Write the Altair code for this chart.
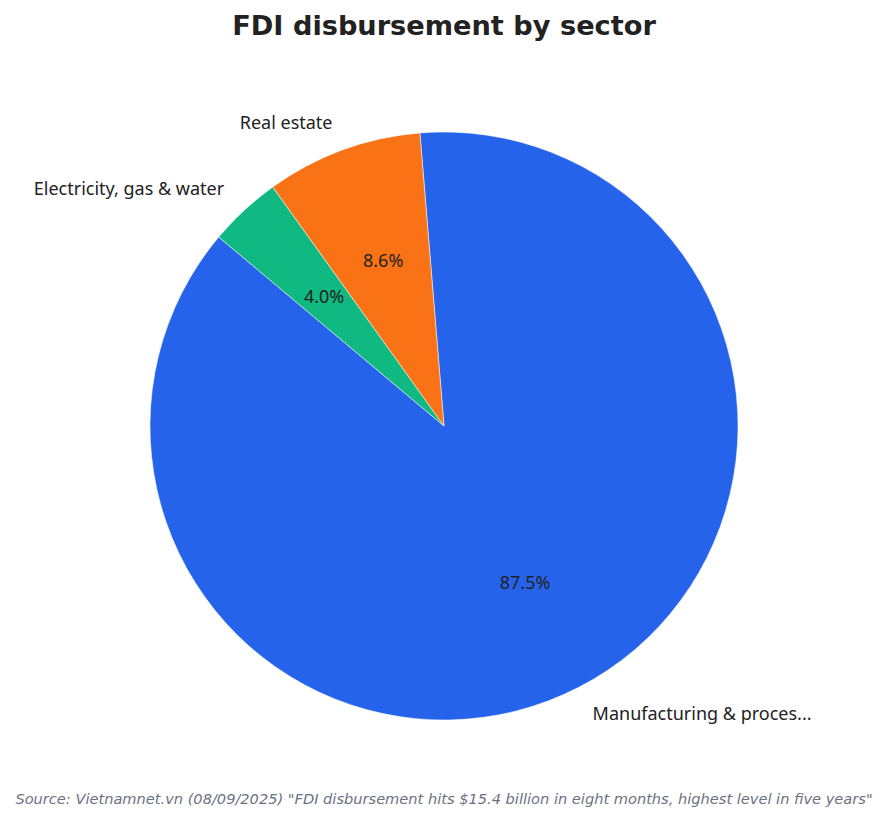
import altair as alt
import pandas as pd
import math

sectors = ["Manufacturing & proces...", "Electricity, gas & water", "Real estate"]
shares = [87.5, 4.0, 8.6]
colors = ["#2563EB", "#10B981", "#F97316"]
pct_labels = ["87.5%", "4.0%", "8.6%"]
side = ["right", "left", "left"]
order = [0, 1, 2]

df = pd.DataFrame({"sector": sectors, "share": shares, "pct": pct_labels,
                   "side": side, "ord": order})
total = float(sum(shares))

start = 2 * math.pi - math.radians(4.7)
theta_scale = alt.Scale(domain=[0, total], range=[start, start + 2 * math.pi])
CX, CY, R = 444, 426, 294
FONT = "Noto Sans"
FS = 18

arcs = alt.Chart(df).mark_arc(radius=R, stroke="white", strokeWidth=0.5).encode(
    theta=alt.Theta("share:Q", stack=True, scale=theta_scale),
    order=alt.Order("ord:Q"),
    x=alt.value(CX), y=alt.value(CY),
    color=alt.Color("sector:N", scale=alt.Scale(domain=sectors, range=colors), legend=None),
)

mid = alt.Chart(df).transform_window(
    cum="sum(share)", sort=[alt.SortField("ord")]
).transform_calculate(mid="datum.cum - datum.share / 2")

def txt(radius, field, align, filt=None):
    c = mid
    if filt is not None:
        c = c.transform_filter(alt.datum.side == filt)
    return c.mark_text(radius=radius, font=FONT, fontSize=FS, color="#222222",
                       align=align, baseline="middle", dy=1.5).encode(
        theta=alt.Theta("mid:Q", stack=None, scale=theta_scale),
        x=alt.value(CX), y=alt.value(CY), text=f"{field}:N")

pct = txt(R * 0.6, "pct", "center")
lab_r = txt(R * 1.1, "sector", "left", "right")
lab_l = txt(R * 1.1, "sector", "right", "left")

title_df = pd.DataFrame({"t": ["FDI disbursement by sector"]})
title = alt.Chart(title_df).mark_text(font="DejaVu Sans", fontSize=27.2, fontWeight="bold",
                                      color="#222222", align="center", baseline="middle").encode(
    x=alt.value(444), y=alt.value(27), text="t:N")

src_df = pd.DataFrame({"t": ['Source: Vietnamnet.vn (08/09/2025) "FDI disbursement hits $15.4 billion in eight months, highest level in five years"']})
source = alt.Chart(src_df).mark_text(font="DejaVu Sans", fontSize=14.6, fontStyle="italic",
                                     color="#6B7280", align="center", baseline="middle").encode(
    x=alt.value(444), y=alt.value(800), text="t:N")

chart = alt.layer(arcs, pct, lab_r, lab_l, title, source).properties(
    width=888, height=823, autosize=alt.AutoSizeParams(type="none"), padding=0,
    background="white"
).configure_view(stroke=None)

chart.save("out.html", embed_options={"renderer": "svg", "actions": False})
